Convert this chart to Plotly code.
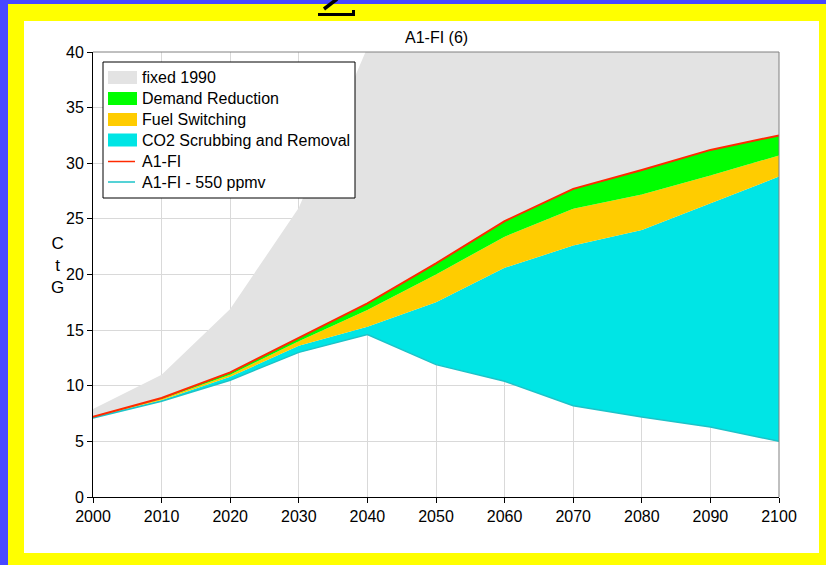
import plotly.graph_objects as go

# ---------------- data ----------------
years = [2000, 2010, 2020, 2030, 2040, 2050, 2060, 2070, 2080, 2090, 2100]
fixed_1990 = [7.9, 11.0, 16.9, 26.0, 40.4, 54.0, 66.0, 76.0, 85.0, 93.0, 100.0]
a1fi = [7.2, 8.9, 11.2, 14.3, 17.4, 21.0, 24.8, 27.7, 29.4, 31.2, 32.5]
fuel_switching_top = [7.2, 8.8, 11.0, 14.0, 16.8, 20.0, 23.4, 25.9, 27.2, 28.9, 30.7]
co2_scrubbing_top = [7.2, 8.7, 10.8, 13.6, 15.3, 17.5, 20.6, 22.6, 24.0, 26.4, 28.8]
a1fi_550 = [7.1, 8.6, 10.5, 13.0, 14.6, 11.9, 10.4, 8.2, 7.2, 6.3, 5.0]

legend_names = ["fixed 1990", "Demand Reduction", "Fuel Switching",
                "CO2 Scrubbing and Removal", "A1-FI", "A1-FI - 550 ppmv"]
x_ticks = list(range(2000, 2101, 10))
y_ticks = list(range(0, 41, 5))

# ---------------- styles ----------------
FONT = "Liberation Sans, Arial, sans-serif"
GRAY = "#e3e3e3"
GREEN = "#00ff00"
YELLOW = "#ffcc00"
CYAN = "#00e5e5"
RED = "#ff2a00"
TEAL = "#1cc3c8"
BLUE = "#4848ff"

W, H = 826, 565
L, R, T, B = 93, 47, 52, 68
PW, PH = W - L - R, H - T - B


def px(x):
    return (x - L) / PW


def py(y):
    return (H - B - y) / PH


fig = go.Figure()

fig.add_trace(go.Scatter(x=years, y=a1fi_550, mode="lines", line=dict(width=0),
                         showlegend=False, hoverinfo="skip"))
fig.add_trace(go.Scatter(x=years, y=co2_scrubbing_top, mode="lines", line=dict(width=0),
                         fill="tonexty", fillcolor=CYAN, showlegend=False))
fig.add_trace(go.Scatter(x=years, y=fuel_switching_top, mode="lines", line=dict(width=0),
                         fill="tonexty", fillcolor=YELLOW, showlegend=False))
fig.add_trace(go.Scatter(x=years, y=a1fi, mode="lines", line=dict(width=0),
                         fill="tonexty", fillcolor=GREEN, showlegend=False))
fig.add_trace(go.Scatter(x=years, y=fixed_1990, mode="lines", line=dict(width=0),
                         fill="tonexty", fillcolor=GRAY, showlegend=False))
fig.add_trace(go.Scatter(x=years, y=a1fi_550, mode="lines", line=dict(color=TEAL, width=1.5),
                         showlegend=False, name=legend_names[5]))
fig.add_trace(go.Scatter(x=years, y=a1fi, mode="lines", line=dict(color=RED, width=2),
                         showlegend=False, name=legend_names[4]))

shapes = []
# background frames
shapes.append(dict(type="rect", xref="paper", yref="paper", layer="below",
                   x0=px(8), x1=px(W + 5), y0=py(H + 5), y1=py(4),
                   fillcolor="#ffff00", line=dict(width=0)))
shapes.append(dict(type="rect", xref="paper", yref="paper", layer="below",
                   x0=px(24), x1=px(819), y0=py(553), y1=py(21),
                   fillcolor="white", line=dict(width=0)))
# top / right plot border (gray)
shapes.append(dict(type="line", xref="paper", yref="paper", x0=0, x1=1, y0=1, y1=1,
                   line=dict(color="#808080", width=1)))
shapes.append(dict(type="line", xref="paper", yref="paper", x0=1, x1=1, y0=0, y1=1,
                   line=dict(color="#808080", width=1)))
# cut-off "2" decoration at top
shapes.append(dict(type="line", xref="paper", yref="paper",
                   x0=px(324), y0=py(9), x1=px(337), y1=py(-1),
                   line=dict(color="black", width=3.5)))
shapes.append(dict(type="rect", xref="paper", yref="paper",
                   x0=px(318), x1=px(355), y0=py(16), y1=py(13),
                   fillcolor="black", line=dict(width=0)))
shapes.append(dict(type="rect", xref="paper", yref="paper",
                   x0=px(352), x1=px(355), y0=py(16), y1=py(10),
                   fillcolor="black", line=dict(width=0)))

# manual legend
shapes.append(dict(type="rect", xref="paper", yref="paper",
                   x0=px(103), x1=px(355), y0=py(198), y1=py(62),
                   fillcolor="white", line=dict(color="black", width=1)))
row_y = [77.5, 98.5, 119.5, 140, 161.5, 182]
patch_colors = [GRAY, GREEN, YELLOW, CYAN]
annotations = []
for i, name in enumerate(legend_names):
    yc = row_y[i]
    if i < 4:
        shapes.append(dict(type="rect", xref="paper", yref="paper",
                           x0=px(108), x1=px(137), y0=py(yc + 6.5), y1=py(yc - 6.5),
                           fillcolor=patch_colors[i], line=dict(width=0)))
    else:
        shapes.append(dict(type="line", xref="paper", yref="paper",
                           x0=px(108), x1=px(135), y0=py(yc), y1=py(yc),
                           line=dict(color=RED if i == 4 else TEAL, width=1.5)))
    annotations.append(dict(text=name, xref="paper", yref="paper", x=px(140), y=py(yc),
                            xanchor="left", yanchor="middle", showarrow=False,
                            font=dict(family=FONT, size=16, color="black")))

# title and y label
annotations.append(dict(text="A1-FI (6)", xref="paper", yref="paper", x=px(436), y=py(37.5),
                        xanchor="center", yanchor="middle", showarrow=False,
                        font=dict(family=FONT, size=16, color="black")))
annotations.append(dict(text="C<br>t<br>G", xref="paper", yref="paper", x=px(57), y=py(265),
                        xanchor="center", yanchor="middle", showarrow=False,
                        font=dict(family=FONT, size=17, color="black")))

fig.update_layout(
    width=W, height=H,
    margin=dict(l=L, r=R, t=T, b=B, pad=0),
    paper_bgcolor=BLUE,
    plot_bgcolor="white",
    showlegend=False,
    shapes=shapes,
    annotations=annotations,
    font=dict(family=FONT, size=16, color="black"),
)
fig.update_xaxes(range=[2000, 2100], tickvals=x_ticks, ticktext=[str(v) for v in x_ticks],
                 showgrid=True, gridcolor="#d9d9d9", gridwidth=1,
                 showline=True, linecolor="black", linewidth=1,
                 ticks="outside", ticklen=5, tickcolor="black",
                 tickfont=dict(family=FONT, size=16, color="black"), zeroline=False)
fig.update_yaxes(range=[0, 40], tickvals=y_ticks, ticktext=[str(v) for v in y_ticks],
                 showgrid=True, gridcolor="#d9d9d9", gridwidth=1,
                 showline=True, linecolor="black", linewidth=1,
                 ticks="outside", ticklen=5, tickcolor="black",
                 tickfont=dict(family=FONT, size=16, color="black"), zeroline=False)

fig.write_html("out.html", config={"displayModeBar": False},
               post_script="document.body.style.margin='0';document.body.style.padding='0';")
